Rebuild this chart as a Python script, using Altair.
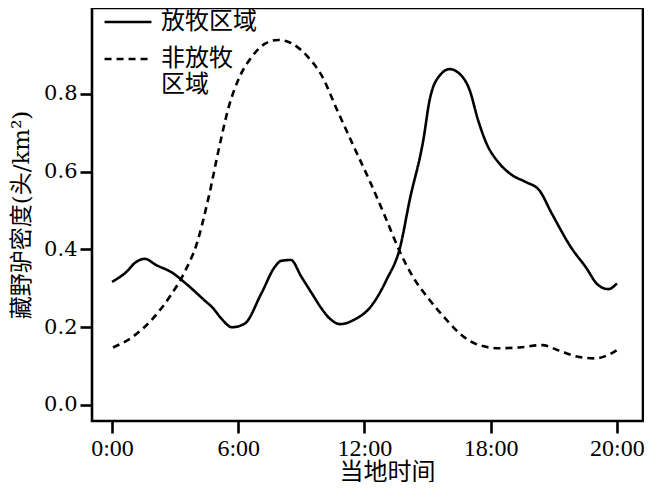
import altair as alt
import pandas as pd

series_names = ["放牧区域", "非放牧区域"]

grazing_hours = [0.0, 0.7, 1.1, 1.55, 2.1, 2.9, 3.5, 4.3, 4.8, 5.25, 5.7, 6.3, 7.1, 7.75,
                 8.05, 8.5, 9.0, 9.5, 9.95, 10.3, 10.85, 11.5, 12.3, 13.05, 13.7, 14.15,
                 14.8, 15.1, 15.6, 16.05, 16.5, 17.0, 17.4, 17.8, 18.4, 19.0, 19.65, 20.3,
                 20.9, 21.85, 22.5, 23.1, 23.6, 24.0]
grazing_vals = [0.317, 0.343, 0.366, 0.376, 0.360, 0.339, 0.313, 0.274, 0.249, 0.219, 0.200,
                0.209, 0.287, 0.356, 0.371, 0.373, 0.330, 0.287, 0.249, 0.225, 0.208, 0.219,
                0.253, 0.322, 0.407, 0.527, 0.682, 0.785, 0.849, 0.864, 0.853, 0.810, 0.733,
                0.673, 0.622, 0.592, 0.574, 0.553, 0.493, 0.403, 0.356, 0.309, 0.298, 0.313]

nongrazing_hours = [0.05, 1.0, 1.95, 2.75, 3.5, 4.0, 4.6, 5.1, 5.55, 6.0, 6.65, 7.3, 7.9,
                    8.55, 9.3, 9.95, 10.7, 11.5, 12.3, 13.05, 13.65, 14.3, 15.1, 15.9, 16.7,
                    17.45, 18.4, 19.35, 20.45, 21.2, 22.15, 22.95, 23.6, 24.0]
nongrazing_vals = [0.148, 0.176, 0.223, 0.279, 0.347, 0.410, 0.536, 0.664, 0.767, 0.836,
                   0.896, 0.930, 0.939, 0.930, 0.896, 0.849, 0.759, 0.664, 0.570, 0.476,
                   0.398, 0.330, 0.270, 0.219, 0.176, 0.154, 0.146, 0.148, 0.154, 0.141,
                   0.124, 0.120, 0.129, 0.141]

x_tick_values = [0, 6, 12, 18, 24]
x_tick_labels = ["0:00", "6:00", "12:00", "18:00", "20:00"]
y_tick_values = [0.0, 0.2, 0.4, 0.6, 0.8]

rows = []
for i, (h, v) in enumerate(zip(grazing_hours, grazing_vals)):
    rows.append({"hour": h, "density": v, "area": series_names[0], "order": i})
for i, (h, v) in enumerate(zip(nongrazing_hours, nongrazing_vals)):
    rows.append({"hour": h, "density": v, "area": series_names[1], "order": i})
df = pd.DataFrame(rows)

label_expr = " : ".join(
    f"datum.value == {v} ? '{l}'" for v, l in zip(x_tick_values, x_tick_labels)
) + " : ''"

SERIF = "Liberation Serif, DejaVu Serif"
DV_SERIF = "DejaVu Serif"
DV_SERIF_CJK = "DejaVu Serif, Noto Sans CJK SC"
CJK = "Noto Sans CJK SC"

chart = alt.Chart(df).mark_line(strokeWidth=2.6, color="black", interpolate="monotone").encode(
    x=alt.X("hour:Q",
            scale=alt.Scale(domain=[-0.95, 25.24], nice=False, zero=False),
            axis=alt.Axis(values=x_tick_values, labelExpr=label_expr, title="当地时间",
                          labelFont=SERIF, labelFontSize=24,
                          titleFont=CJK, titleX=295, titleY=58, titleBaseline="alphabetic",
                          titleAlign="center", titleAnchor="start")),
    y=alt.Y("density:Q",
            scale=alt.Scale(domain=[-0.0412, 1.0212], nice=False, zero=False),
            axis=alt.Axis(values=y_tick_values, format=".1f", title="藏野驴密度(头/km²)",
                          labelFont=DV_SERIF, labelFontSize=21,
                          titleFont=DV_SERIF_CJK, titleFontSize=23, titleX=-71,
                          titleBaseline="middle")),
    strokeDash=alt.StrokeDash("area:N",
                              scale=alt.Scale(domain=series_names, range=[[1, 0], [7, 5]]),
                              legend=alt.Legend(orient="none", legendX=11, legendY=-11,
                                                title=None, symbolType="stroke",
                                                symbolSize=2200, symbolStrokeWidth=2.6,
                                                symbolStrokeColor="black",
                                                labelFontSize=24, labelFont=CJK,
                                                labelColor="black", labelOffset=8,
                                                rowPadding=-3, padding=0,
                                                labelLimit=300,
                                                labelExpr="datum.label == '非放牧区域' ? ['非放牧', '区域'] : datum.label")),
    order="order:Q",
).properties(
    width=551,
    height=413,
    autosize=alt.AutoSizeParams(type="none"),
    padding={"left": 84, "top": 0, "right": 1, "bottom": 61},
).configure_view(
    stroke="black", strokeWidth=2.6
).configure_axis(
    domain=False, grid=False, ticks=True, tickSize=12, tickWidth=2.6, tickColor="black",
    labelColor="black", labelPadding=3,
    titleFontSize=24, titleColor="black", titleFontWeight="normal",
)

chart.save("out.html", embed_options={"renderer": "svg", "actions": False})
